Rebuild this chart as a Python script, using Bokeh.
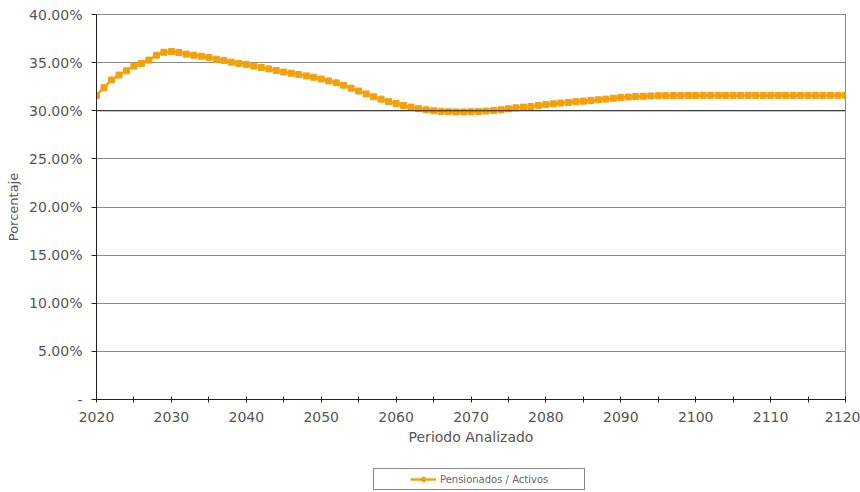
from bokeh.plotting import figure
from bokeh.models import (Range1d, FixedTicker, Legend, LegendItem, Span, ColumnDataSource)
from bokeh.layouts import column
from bokeh.embed import file_html
from bokeh.resources import INLINE

# ---------------- data ----------------
years = list(range(2020, 2121))
ratio_pct = [
    31.58, 32.40, 33.20, 33.71, 34.15, 34.64, 34.92, 35.26, 35.77, 36.08,   # 2020-2029
    36.15, 36.05, 35.88, 35.77, 35.67, 35.54, 35.36, 35.23, 35.05, 34.92,   # 2030-2039
    34.81, 34.64, 34.50, 34.35, 34.18, 34.02, 33.90, 33.76, 33.62, 33.48,   # 2040-2049
    33.30, 33.10, 32.90, 32.65, 32.35, 32.05, 31.75, 31.45, 31.20, 30.95,   # 2050-2059
    30.75, 30.55, 30.38, 30.22, 30.10, 30.00, 29.93, 29.90, 29.88, 29.88,   # 2060-2069
    29.90, 29.93, 29.97, 30.03, 30.10, 30.20, 30.30, 30.38, 30.45, 30.55,   # 2070-2079
    30.65, 30.72, 30.80, 30.87, 30.94, 31.00, 31.07, 31.14, 31.21, 31.30,   # 2080-2089
    31.37, 31.43, 31.47, 31.51, 31.54, 31.56, 31.57, 31.58, 31.58, 31.59,   # 2090-2099
    31.59, 31.60, 31.60, 31.60, 31.60, 31.60, 31.60, 31.60, 31.60, 31.60,   # 2100-2109
    31.60, 31.60, 31.60, 31.60, 31.60, 31.60, 31.60, 31.60, 31.60, 31.60,   # 2110-2119
    31.60,                                                                   # 2120
]
assert len(years) == len(ratio_pct)

series_name = "Pensionados / Activos"
x_label = "Periodo Analizado"
y_label = "Porcentaje"

x_major_ticks = [2020, 2030, 2040, 2050, 2060, 2070, 2080, 2090, 2100, 2110, 2120]
x_minor_ticks = [2025, 2035, 2045, 2055, 2065, 2075, 2085, 2095, 2105, 2115]
y_ticks = [0, 5, 10, 15, 20, 25, 30, 35, 40]
y_tick_labels = ["-", "5.00%", "10.00%", "15.00%", "20.00%", "25.00%", "30.00%", "35.00%", "40.00%"]
reference_level = 30

# ---------------- styling ----------------
FONT = "DejaVu Sans"
ORANGE = "#F4A00C"
TEXT = "#555555"
LINE_W = 2.4
MARK_SIZE = 6

p = figure(width=860, height=464, output_backend="svg", toolbar_location=None,
           x_range=Range1d(years[0], years[-1]), y_range=Range1d(y_ticks[0], y_ticks[-1]),
           min_border_left=96, min_border_right=15, min_border_top=14, min_border_bottom=65)

src = ColumnDataSource(dict(x=years, y=ratio_pct))
p.line("x", "y", source=src, line_color=ORANGE, line_width=LINE_W)
p.scatter("x", "y", source=src, marker="square", size=MARK_SIZE, fill_color=ORANGE,
          line_color=ORANGE)

p.add_layout(Span(location=reference_level, dimension="width", line_color="#222222",
                  line_width=1.2))

# grid
p.xgrid.visible = False
p.ygrid.ticker = FixedTicker(ticks=y_ticks)
p.ygrid.grid_line_color = "#8a8a8a"
p.ygrid.grid_line_width = 1
p.outline_line_color = "#8a8a8a"
p.outline_line_width = 1

# x axis
xa = p.xaxis[0]
xa.ticker = FixedTicker(ticks=x_major_ticks, minor_ticks=x_minor_ticks)
xa.axis_label = x_label
xa.axis_line_color = "#222222"
xa.major_tick_line_color = "#222222"
xa.minor_tick_line_color = "#222222"
xa.major_tick_in = 3
xa.major_tick_out = 3
xa.minor_tick_in = 3
xa.minor_tick_out = 3
xa.major_label_standoff = 9
xa.axis_label_standoff = 4
xa.major_label_text_font = FONT
xa.major_label_text_font_size = "14px"
xa.major_label_text_color = TEXT
xa.axis_label_text_font = FONT
xa.axis_label_text_font_size = "14px"
xa.axis_label_text_font_style = "normal"
xa.axis_label_text_color = TEXT

# y axis
ya = p.yaxis[0]
ya.ticker = FixedTicker(ticks=y_ticks)
ya.major_label_overrides = {t: lab for t, lab in zip(y_ticks, y_tick_labels)}
ya.axis_label = y_label
ya.axis_line_color = "#222222"
ya.major_tick_line_color = "#222222"
ya.minor_tick_line_color = None
ya.major_tick_in = 0
ya.major_tick_out = 5
ya.major_label_standoff = 9
ya.axis_label_standoff = 5
ya.major_label_text_font = FONT
ya.major_label_text_font_size = "14px"
ya.major_label_text_color = TEXT
ya.axis_label_text_font = FONT
ya.axis_label_text_font_size = "13px"
ya.axis_label_text_font_style = "normal"
ya.axis_label_text_color = TEXT

# ---------------- legend strip below the chart ----------------
# (its frame is aligned with the chart's frame by the column layout)
leg = figure(width=860, height=28, output_backend="svg", toolbar_location=None,
             x_axis_type=None, y_axis_type=None,
             x_range=Range1d(0, 1), y_range=Range1d(0, 1),
             min_border_left=0, min_border_right=0, min_border_top=0, min_border_bottom=0)
leg.grid.visible = False
leg.outline_line_color = None
# same data, but outside this strip's ranges: only the legend swatches show
lg_line = leg.line("x", "y", source=src, line_color=ORANGE, line_width=LINE_W)
lg_mark = leg.scatter("x", "y", source=src, marker="circle", size=7,
                      fill_color=ORANGE, line_color=ORANGE)
sp1 = leg.line("x", "y", source=src, line_alpha=0)
sp2 = leg.line("x", "y", source=src, line_alpha=0)

legend = Legend(items=[LegendItem(label=" ", renderers=[sp1]),
                       LegendItem(label=series_name, renderers=[lg_line, lg_mark]),
                       LegendItem(label=" ", renderers=[sp2])],
                orientation="horizontal", location=(277, 2),
                padding=4, spacing=2, margin=0,
                glyph_width=26, glyph_height=12, label_standoff=4, label_width=0,
                label_text_font=FONT, label_text_font_size="10px", label_text_color="#666666",
                border_line_color="#111111", border_line_width=1,
                background_fill_color="white", background_fill_alpha=1)
leg.add_layout(legend)

layout = column(p, leg, spacing=0)
open("out.html", "w").write(file_html(layout, INLINE))
